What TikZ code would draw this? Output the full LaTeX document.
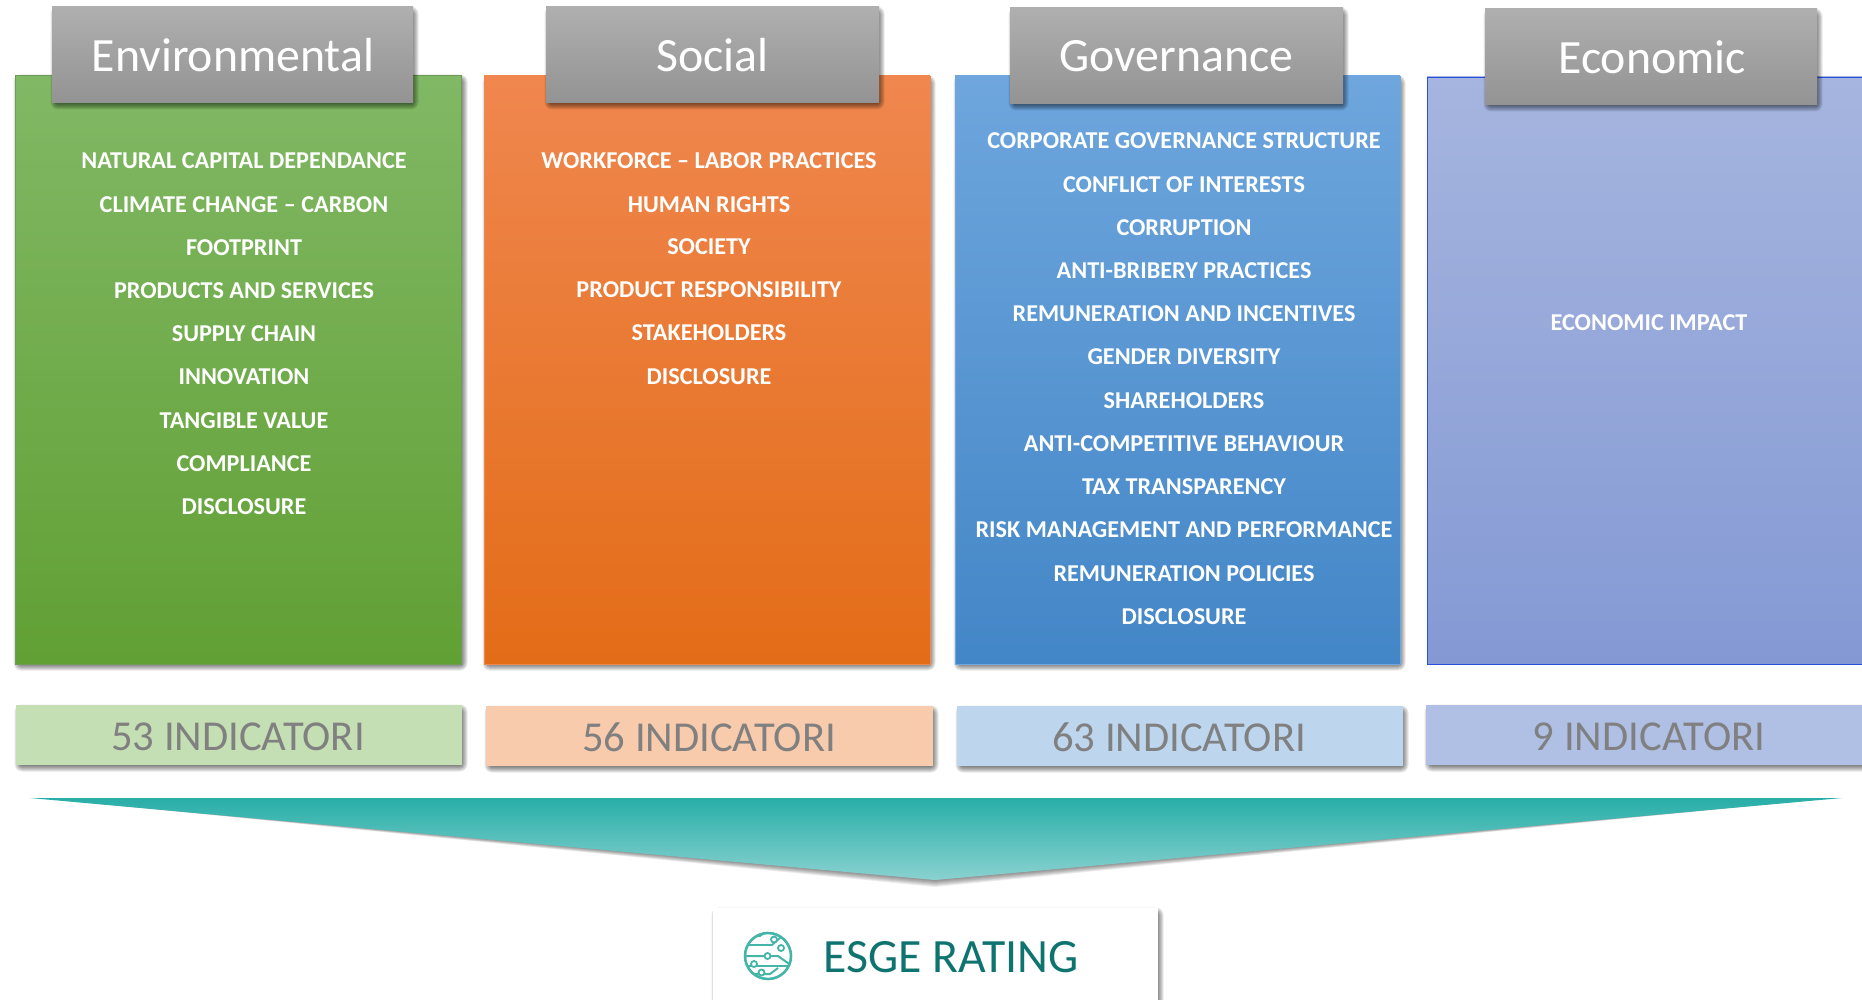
\documentclass[tikz,border=0pt]{standalone}
\usepackage{fontspec}
\setmainfont{Carlito}
\definecolor{gT}{HTML}{81B865}\definecolor{gB}{HTML}{61A034}
\definecolor{oT}{HTML}{F0874F}\definecolor{oM}{HTML}{FA7C26}\definecolor{oB}{HTML}{E36C17}
\definecolor{bT}{HTML}{6EA6DD}\definecolor{bB}{HTML}{4386C7}
\definecolor{eT}{HTML}{A6B5DF}\definecolor{eB}{HTML}{8499D4}
\definecolor{hT}{HTML}{AFAFAF}\definecolor{hB}{HTML}{939393}
\definecolor{teal}{HTML}{0F7470}\definecolor{tealL}{HTML}{45B5A8}
\definecolor{tealT}{HTML}{28AEA8}\definecolor{tealB}{HTML}{8AD2D0}
\definecolor{i1c}{HTML}{C5DFB4}\definecolor{i2c}{HTML}{F7CBAC}\definecolor{i3c}{HTML}{BDD6EE}\definecolor{i4c}{HTML}{AFC0E4}
\newcommand{\softshadow}[4]{%
  \foreach \k in {0,1,...,7}{%
    \fill[black,opacity=.09,rounded corners=\k*1pt+.5pt]
      ({#1+2+3.5-\k},{#2+3+3.5-\k}) rectangle ({#3+2-3.5+\k},{#4+3-3.5+\k});
  }}
\tikzset{
  x=1pt,y=-1pt,
  panel/.style={line width=.8pt},
  head/.style={top color=hT,bottom color=hB,draw=none},
  headtext/.style={text=white,font=\fontsize{47.8}{48}\selectfont,inner sep=0pt,anchor=center},
  item/.style={text=white,font=\fontsize{24.2}{26}\selectfont\bfseries,inner sep=0pt,anchor=center},
  indtext/.style={text=black!50,font=\fontsize{42.6}{43}\selectfont,inner sep=0pt,anchor=center},
  icon/.style={tealL,line width=2pt},
  dot/.style={draw=tealL,fill=white,line width=1.8pt},
}
\begin{document}
\begin{tikzpicture}
\useasboundingbox (0,0) rectangle (1862,1000);
\fill[white] (0,0) rectangle (1862,1000);
% panels
\softshadow{15}{75}{462}{664}
\softshadow{484}{76}{930}{664}
\softshadow{955}{76}{1400}{664}
\draw[panel,top color=gT,bottom color=gB,draw=gT!85!black] (15,75.5) rectangle (461.5,664);
\draw[panel,top color=oT,middle color=oM,bottom color=oB,draw=oT] (484,76) rectangle (930,664);
\draw[panel,top color=bT,bottom color=bB,draw=bT] (955,76) rectangle (1400,664);
\draw[panel,top color=eT,bottom color=eB,draw=blue!40!bB] (1427,77) rectangle (1900,664);
% headers
\softshadow{52}{7}{413}{103}
\softshadow{546}{7}{879}{103}
\softshadow{1010}{8}{1343}{104}
\softshadow{1485}{9}{1817}{105}
\draw[head] (52,7) rectangle (413,103);
\draw[head] (546,7) rectangle (879,103);
\draw[head] (1010,8) rectangle (1343,104);
\draw[head] (1485,9) rectangle (1817,105);
\node[headtext] (hEnv) at (233,55) {Environmental};
\node[headtext] (hSoc) at (712.5,55) {Social};
\node[headtext] (hGov) at (1176.5,56) {Governance};
\node[headtext] (hEco) at (1652,57) {Economic};
% environmental
\node[item] (e1) at (244,161) {NATURAL CAPITAL DEPENDANCE};
\node[item] (e2) at (244,205) {CLIMATE CHANGE – CARBON};
\node[item] (e3) at (244,248) {FOOTPRINT};
\node[item] (e4) at (244,291) {PRODUCTS AND SERVICES};
\node[item] (e5) at (244,334) {SUPPLY CHAIN};
\node[item] (e6) at (244,377) {INNOVATION};
\node[item] (e7) at (244,421) {TANGIBLE VALUE};
\node[item] (e8) at (244,464) {COMPLIANCE};
\node[item] (e9) at (244,507) {DISCLOSURE};
% social
\node[item] (s1) at (709,161) {WORKFORCE – LABOR PRACTICES};
\node[item] (s2) at (709,205) {HUMAN RIGHTS};
\node[item] (s3) at (709,247) {SOCIETY};
\node[item] (s4) at (709,290) {PRODUCT RESPONSIBILITY};
\node[item] (s5) at (709,333) {STAKEHOLDERS};
\node[item] (s6) at (709,377) {DISCLOSURE};
% governance
\node[item] (g1) at (1184,141) {CORPORATE GOVERNANCE STRUCTURE};
\node[item] (g2) at (1184,185) {CONFLICT OF INTERESTS};
\node[item] (g3) at (1184,228) {CORRUPTION};
\node[item] (g4) at (1184,271) {ANTI-BRIBERY PRACTICES};
\node[item] (g5) at (1184,314) {REMUNERATION AND INCENTIVES};
\node[item] (g6) at (1184,357) {GENDER DIVERSITY};
\node[item] (g7) at (1184,401) {SHAREHOLDERS};
\node[item] (g8) at (1184,444) {ANTI-COMPETITIVE BEHAVIOUR};
\node[item] (g9) at (1184,487) {TAX TRANSPARENCY};
\node[item] (g10) at (1184,530) {RISK MANAGEMENT AND PERFORMANCE};
\node[item] (g11) at (1184,574) {REMUNERATION POLICIES};
\node[item] (g12) at (1184,617) {DISCLOSURE};
% economic
\node[item] (c1) at (1649,323) {ECONOMIC IMPACT};
% indicators
\softshadow{16}{705}{462}{765}
\softshadow{486}{706}{933}{766}
\softshadow{957}{706}{1403}{766}
\softshadow{1426}{705}{1900}{765}
\fill[i1c] (16,705) rectangle (462,765);
\fill[i2c] (486,706) rectangle (933,766);
\fill[i3c] (957,706) rectangle (1403,766);
\fill[i4c] (1426,705) rectangle (1900,765);
\node[indtext] (i1) at (238,737) {53 INDICATORI};
\node[indtext] (i2) at (709,737) {56 INDICATORI};
\node[indtext] (i3) at (1179,737) {63 INDICATORI};
\node[indtext] (i4) at (1649,737) {9 INDICATORI};
% funnel
\foreach \k in {1,...,7}{\fill[black,opacity=.07] (60,800) -- (1812,800) -- (935,{880+\k}) -- cycle;}
\shade[top color=tealT,bottom color=tealB] (30,798) -- (1842,798) -- (935,880) -- cycle;
% rating box
\softshadow{713}{908}{1158}{1040}
\fill[white] (713,908) rectangle (1158,1040);
\node[inner sep=0pt,anchor=center,text=teal,font=\fontsize{47.8}{48}\selectfont] (rating) at (951,957) {ESGE RATING};
% icon
\begin{scope}
\clip (768,956) circle (23.5);
\draw[icon,line width=1.8pt] (745,945) -- (772,945) -- (780,938) -- (790,938);
\draw[icon,line width=1.8pt] (748,936) -- (760,936) -- (768,930) -- (790,930);
\draw[icon] (744,956) -- (778,956) -- (792,966);
\draw[icon] (744,966) -- (792,966);
\draw[icon] (752,974) -- (770,974) -- (778,968);
\draw[icon] (756,980) -- (780,980);
\end{scope}
\draw[tealL,line width=2.6pt] (768,956) circle (23);
\draw[dot] (774,939.5) circle (3);
\draw[dot] (781,948) circle (3);
\draw[dot] (767.5,956) circle (3);
\draw[dot] (754,964) circle (3);
\draw[dot] (761.5,972.5) circle (3);
\end{tikzpicture}
\end{document}
